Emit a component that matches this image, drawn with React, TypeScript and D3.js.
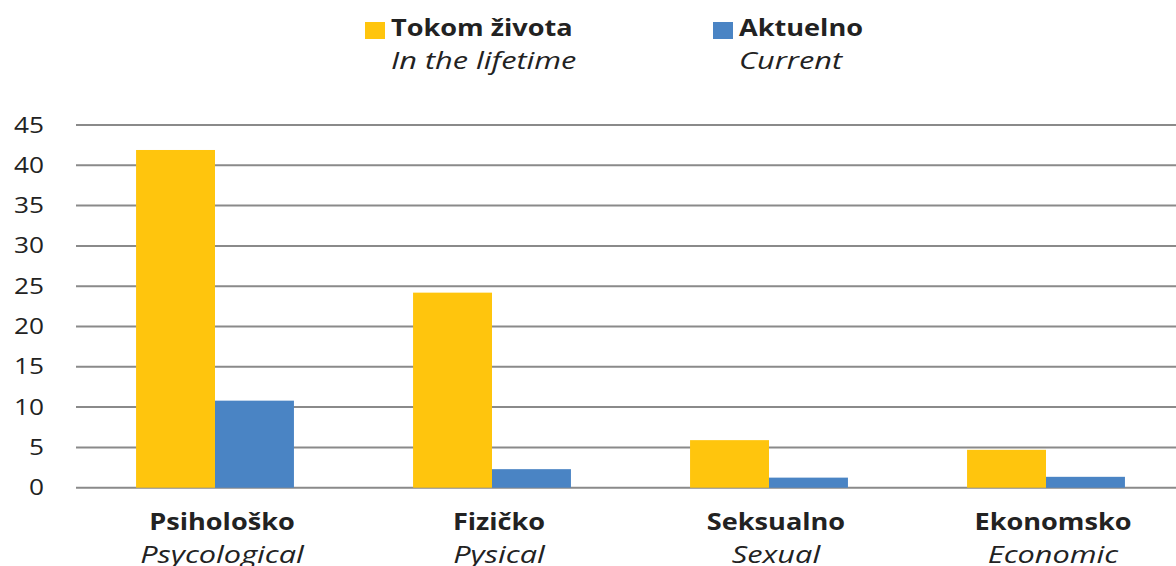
import React from "react";
import * as d3 from "d3";

const categories = ["Psihološko", "Fizičko", "Seksualno", "Ekonomsko"];
const categoriesEn = ["Psycological", "Pysical", "Sexual", "Economic"];
const seriesKeys = ["lifetime", "current"];
const seriesNames = ["Tokom života", "Aktuelno"];
const seriesNamesEn = ["In the lifetime", "Current"];
const lifetimeValues = [41.9, 24.2, 5.9, 4.7];
const currentValues = [10.8, 2.3, 1.25, 1.35];
const yTicks = [0, 5, 10, 15, 20, 25, 30, 35, 40, 45];

const colors = ["#FFC50D", "#4A84C4"];
const W = 1176;
const H = 566;
const FONT = "'Open Sans', 'DejaVu Sans', sans-serif";
const TEXT = "#222";

function SText(props: {
  x: number;
  y: number;
  sx: number;
  size: number;
  anchor?: string;
  weight?: string;
  italic?: boolean;
  dy?: string;
  children: React.ReactNode;
}) {
  return (
    <text
      transform={`translate(${props.x},${props.y}) scale(${props.sx},1)`}
      textAnchor={props.anchor || "start"}
      fontSize={props.size}
      fontWeight={props.weight || "normal"}
      fontStyle={props.italic ? "italic" : "normal"}
      dy={props.dy}
      fill={TEXT}
    >
      {props.children}
    </text>
  );
}

export default function App() {
  const x = d3
    .scaleBand<string>()
    .domain(categories)
    .range([76.5, 1184.5])
    .paddingInner(0.43)
    .paddingOuter(0.215);
  const xs = d3.scaleBand<string>().domain(seriesKeys).range([0, x.bandwidth()]).padding(0);
  const y = d3.scaleLinear().domain([0, 45]).range([487.7, 125]);
  const values = [lifetimeValues, currentValues];

  const legendX = [365, 713];

  return (
    <svg
      width={W}
      height={H}
      style={{ position: "absolute", left: 0, top: 0, background: "#fff" }}
      fontFamily={FONT}
    >
      {yTicks.map((t) => (
        <g key={t}>
          <line x1={76} x2={W} y1={y(t)} y2={y(t)} stroke="#8a8a8a" strokeWidth={2} />
          <SText x={44} y={y(t)} dy="0.36em" anchor="end" size={21} sx={1.25}>
            {t}
          </SText>
        </g>
      ))}
      {categories.map((c, i) => (
        <g key={c} transform={`translate(${x(c)},0)`}>
          {seriesKeys.map((s, j) => (
            <rect
              key={s}
              x={xs(s)}
              width={xs.bandwidth()}
              y={y(values[j][i])}
              height={y(0) - y(values[j][i])}
              fill={colors[j]}
            />
          ))}
        </g>
      ))}
      {categories.map((c, i) => {
        const cx = (x(c) as number) + x.bandwidth() / 2 + 7;
        return (
          <g key={c + "-lab"}>
            <SText x={cx} y={530} anchor="middle" size={24} weight="bold" sx={1.13}>
              {c}
            </SText>
            <SText x={cx} y={563} anchor="middle" size={24} italic sx={1.28}>
              {categoriesEn[i]}
            </SText>
          </g>
        );
      })}
      {seriesNames.map((n, i) => (
        <g key={n}>
          <rect x={legendX[i]} y={22} width={20} height={17} fill={colors[i]} />
          <SText x={legendX[i] + 26} y={36} size={24} weight="bold" sx={1.13}>
            {n}
          </SText>
          <SText x={legendX[i] + 26} y={69} size={24} italic sx={1.28}>
            {seriesNamesEn[i]}
          </SText>
        </g>
      ))}
    </svg>
  );
}
